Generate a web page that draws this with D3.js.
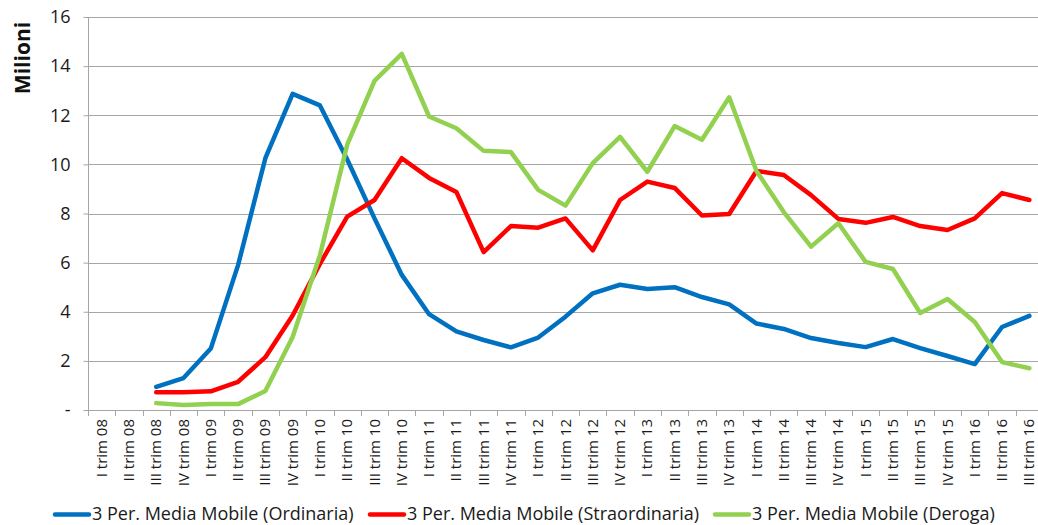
<!DOCTYPE html>
<html>
<head>
<meta charset="utf-8">
<script src="https://cdn.jsdelivr.net/npm/d3@7"></script>
<style>
  html, body { margin: 0; padding: 0; background: #fff; }
  svg { display: block; font-family: "Open Sans", Lato, sans-serif; }
</style>
</head>
<body>
<svg id="chart" width="1038" height="525"></svg>
<script>
// Quarter labels along the x axis
const categories = [
  "I trim 08", "II trim 08", "III trim 08", "IV trim 08",
  "I trim 09", "II trim 09", "III trim 09", "IV trim 09",
  "I trim 10", "II trim 10", "III trim 10", "IV trim 10",
  "I trim 11", "II trim 11", "III trim 11", "IV trim 11",
  "I trim 12", "II trim 12", "III trim 12", "IV trim 12",
  "I trim 13", "II trim 13", "III trim 13", "IV trim 13",
  "I trim 14", "II trim 14", "III trim 14", "IV trim 14",
  "I trim 15", "II trim 15", "III trim 15", "IV trim 15",
  "I trim 16", "II trim 16", "III trim 16"
];

// 3-period moving averages, millions (null = no value yet)
const ordinaria = [
  null, null, 0.94, 1.3, 2.5, 5.9, 10.25, 12.87,
  12.4, 10.2, 7.8, 5.5, 3.9, 3.2, 2.85, 2.55,
  2.95, 3.8, 4.75, 5.1, 4.93, 5.0, 4.6, 4.3,
  3.52, 3.3, 2.93, 2.73, 2.56, 2.89, 2.52, 2.2,
  1.87, 3.38, 3.83
];
const straordinaria = [
  null, null, 0.72, 0.72, 0.76, 1.15, 2.15, 3.85,
  5.95, 7.87, 8.55, 10.25, 9.45, 8.88, 6.43, 7.49,
  7.42, 7.8, 6.5, 8.55, 9.3, 9.04, 7.92, 7.98,
  9.73, 9.57, 8.75, 7.78, 7.62, 7.86, 7.49, 7.33,
  7.8, 8.83, 8.55
];
const deroga = [
  null, null, 0.28, 0.2, 0.24, 0.24, 0.77, 2.97,
  6.3, 10.8, 13.4, 14.5, 11.95, 11.47, 10.55, 10.5,
  8.96, 8.32, 10.05, 11.12, 9.7, 11.56, 11.0, 12.73,
  9.73, 8.06, 6.65, 7.6, 6.03, 5.74, 3.95, 4.52,
  3.58, 1.95, 1.7
];

const yTicks = [0, 2, 4, 6, 8, 10, 12, 14, 16];

const series = [
  { name: "3 Per. Media Mobile (Ordinaria)", values: ordinaria, color: "#0070C0" },
  { name: "3 Per. Media Mobile (Straordinaria)", values: straordinaria, color: "#FF0000" },
  { name: "3 Per. Media Mobile (Deroga)", values: deroga, color: "#92D050" }
];

const svg = d3.select("#chart");
const plot = { left: 88, top: 17, bottom: 410, right: 1043 };
const gridColor = "#a6a6a6";
const textColor = "#1a1a1a";

const x = d3.scaleBand().domain(categories).range([plot.left, plot.right]).padding(0);
const y = d3.scaleLinear().domain([0, 16]).range([plot.bottom, plot.top]);

// Horizontal gridlines
svg.append("g")
  .selectAll("line")
  .data(yTicks)
  .join("line")
  .attr("x1", plot.left).attr("x2", 1038)
  .attr("y1", d => Math.round(y(d)) + 0.5).attr("y2", d => Math.round(y(d)) + 0.5)
  .attr("stroke", gridColor).attr("stroke-width", 1);

// Y axis
const yAxis = svg.append("g")
  .attr("transform", `translate(${plot.left + 0.5},0)`)
  .call(d3.axisLeft(y).tickValues(yTicks).tickSize(5).tickPadding(13)
    .tickFormat(d => d === 0 ? "-" : d3.format("d")(d)));
yAxis.select(".domain").attr("stroke", gridColor).attr("d", `M0,${plot.top}V${plot.bottom}`);
yAxis.selectAll(".tick line").attr("stroke", gridColor);
yAxis.selectAll(".tick text")
  .attr("font-size", 18).attr("fill", textColor).attr("font-family", "'Open Sans', sans-serif");

// X axis: ticks between categories
const boundaries = categories.map(c => x(c)).concat([plot.right]);
svg.append("g")
  .selectAll("line")
  .data(boundaries)
  .join("line")
  .attr("x1", d => Math.round(d) + 0.5).attr("x2", d => Math.round(d) + 0.5)
  .attr("y1", plot.bottom).attr("y2", plot.bottom + 6)
  .attr("stroke", gridColor);

svg.append("g")
  .selectAll("text")
  .data(categories)
  .join("text")
  .attr("transform", d => `translate(${x(d) + x.bandwidth() / 2},419) rotate(-90)`)
  .attr("text-anchor", "end")
  .attr("dy", "0.34em")
  .attr("font-size", 15)
  .attr("fill", textColor)
  .text(d => d);

// Y axis title
svg.append("text")
  .attr("transform", "translate(22,58) rotate(-90)")
  .attr("text-anchor", "middle")
  .attr("dy", "0.36em")
  .attr("font-size", 21)
  .attr("font-weight", "bold")
  .attr("fill", "#111")
  .text("Milioni");

// Series lines
const line = d3.line()
  .defined(d => d != null)
  .x((d, i) => x(categories[i]) + x.bandwidth() / 2)
  .y(d => y(d));

svg.append("g")
  .selectAll("path")
  .data(series)
  .join("path")
  .attr("d", s => line(s.values))
  .attr("fill", "none")
  .attr("stroke", s => s.color)
  .attr("stroke-width", 4.5)
  .attr("stroke-linejoin", "round")
  .attr("stroke-linecap", "round");

// Legend
const legendX = [55, 370, 715];
const legend = svg.append("g")
  .selectAll("g")
  .data(series)
  .join("g")
  .attr("transform", (s, i) => `translate(${legendX[i]},0)`);
legend.append("line")
  .attr("x1", 0).attr("x2", 34)
  .attr("y1", 514.5).attr("y2", 514.5)
  .attr("stroke", s => s.color)
  .attr("stroke-width", 4.5)
  .attr("stroke-linecap", "round");
legend.append("text")
  .attr("x", 37).attr("y", 520)
  .attr("font-size", 18)
  .attr("fill", textColor)
  .text(s => s.name);
</script>
</body>
</html>
